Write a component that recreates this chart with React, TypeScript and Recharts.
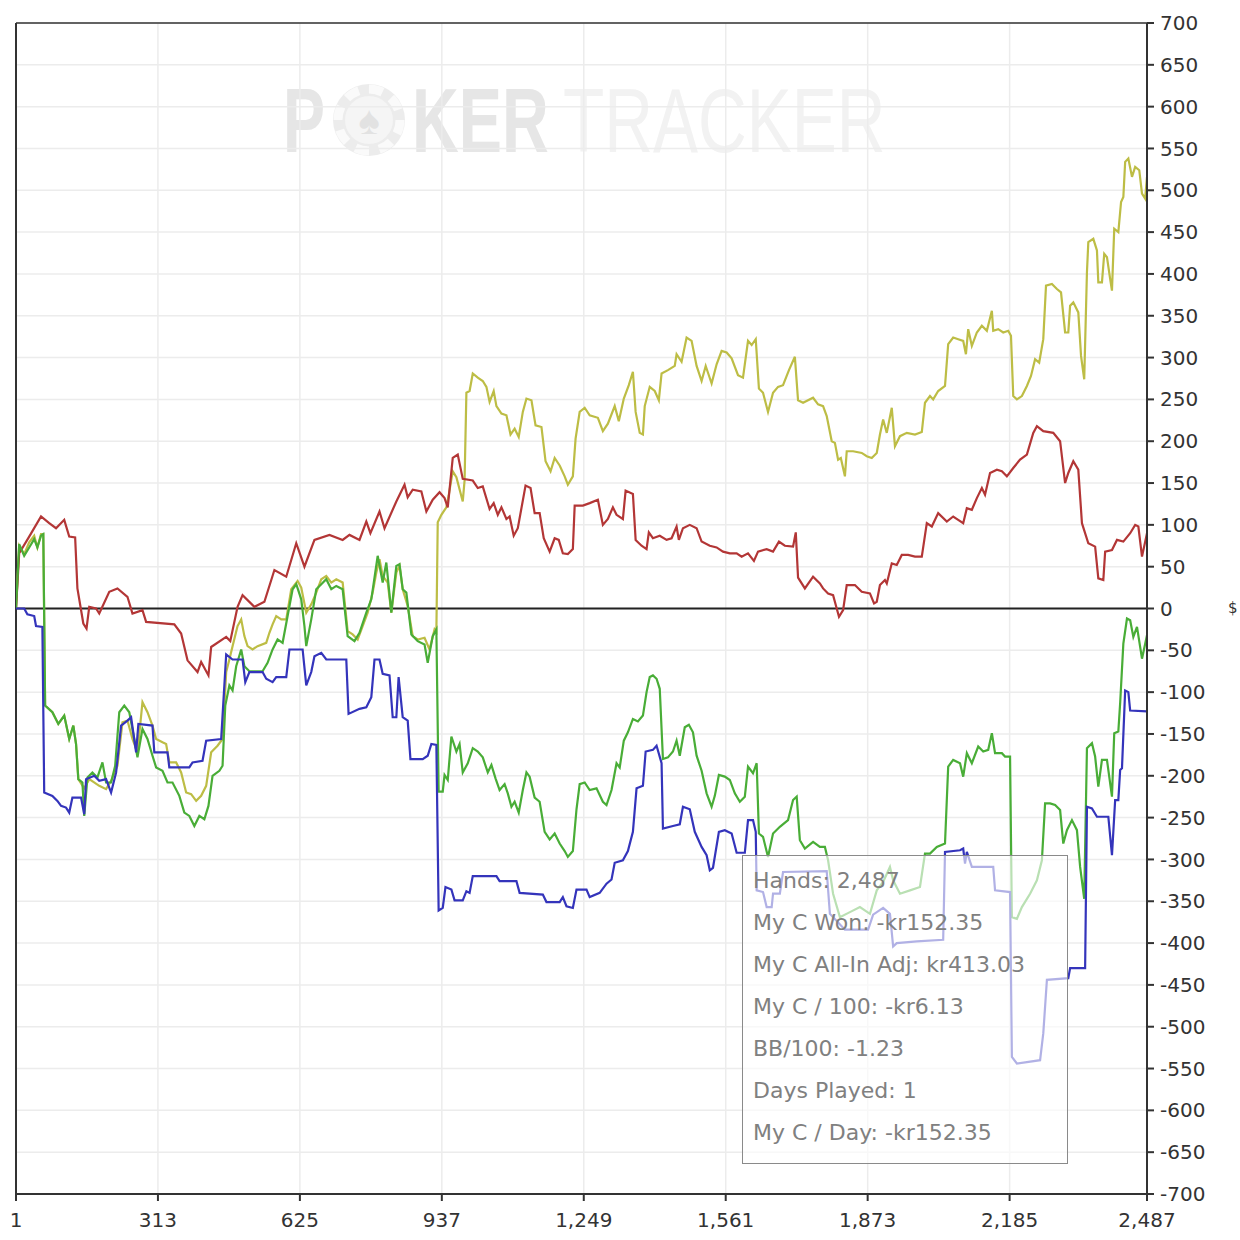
import React from 'react';
import { LineChart, Line, XAxis, YAxis, CartesianGrid, ReferenceLine } from 'recharts';

// hand number / running total
const xTicks = [1, 313, 625, 937, 1249, 1561, 1873, 2185, 2487];
const yTicks = Array.from({ length: 29 }, (_, i) => -700 + i * 50);

const wonHands = [1, 8, 30, 56, 74, 89, 107, 118, 131, 136, 149, 156, 162, 177, 184, 206, 224, 246, 257, 279, 287, 349, 364, 378, 400, 408, 424, 430, 463, 472, 488, 499, 525, 547, 569, 595, 617, 635, 657, 690, 719, 734, 756, 771, 780, 800, 811, 837, 855, 862, 873, 892, 903, 917, 932, 943, 950, 961, 972, 983, 1005, 1016, 1027, 1042, 1051, 1060, 1068, 1079, 1086, 1095, 1104, 1121, 1132, 1141, 1152, 1161, 1174, 1185, 1194, 1203, 1214, 1225, 1229, 1247, 1262, 1280, 1291, 1302, 1313, 1321, 1335, 1341, 1357, 1363, 1376, 1387, 1392, 1401, 1416, 1431, 1442, 1453, 1458, 1467, 1482, 1497, 1508, 1526, 1541, 1555, 1570, 1585, 1596, 1610, 1623, 1632, 1651, 1665, 1678, 1691, 1709, 1715, 1720, 1735, 1753, 1768, 1775, 1786, 1797, 1805, 1810, 1819, 1827, 1845, 1860, 1878, 1887, 1893, 1900, 1911, 1915, 1926, 1937, 1948, 1962, 1977, 1992, 2003, 2014, 2028, 2047, 2061, 2072, 2083, 2091, 2102, 2113, 2124, 2131, 2142, 2157, 2168, 2179, 2193, 2208, 2223, 2237, 2245, 2259, 2281, 2296, 2307, 2314, 2325, 2336, 2344, 2358, 2373, 2380, 2391, 2395, 2410, 2421, 2435, 2450, 2461, 2468, 2476, 2487];
const wonValues = [0, 66, 86, 110, 102, 96, 106, 86, 85, 24, -18, -24, 2, 0, -6, 20, 24, 14, -6, -2, -16, -19, -30, -62, -76, -64, -80, -46, -34, -39, 2, 16, 2, 8, 46, 38, 78, 50, 82, 88, 82, 88, 82, 104, 90, 116, 96, 128, 148, 133, 142, 140, 116, 130, 139, 132, 121, 180, 184, 155, 153, 144, 146, 119, 126, 112, 121, 107, 110, 87, 96, 147, 144, 114, 114, 84, 68, 84, 82, 66, 65, 71, 123, 123, 126, 130, 100, 107, 121, 112, 107, 141, 137, 82, 75, 71, 91, 84, 87, 82, 84, 98, 82, 96, 100, 96, 80, 75, 73, 68, 66, 66, 62, 66, 57, 68, 71, 68, 80, 75, 74, 91, 37, 24, 38, 30, 24, 18, 16, 0, -10, -2, 28, 28, 20, 18, 6, 8, 28, 34, 30, 54, 52, 64, 64, 62, 62, 102, 98, 114, 104, 110, 106, 102, 120, 118, 132, 144, 136, 162, 166, 164, 158, 168, 178, 184, 210, 218, 212, 210, 200, 150, 162, 176, 166, 102, 78, 74, 36, 34, 68, 70, 82, 80, 90, 100, 98, 62, 90];

const adjHands = [1, 8, 19, 30, 41, 48, 56, 61, 65, 81, 94, 107, 118, 127, 133, 138, 151, 162, 184, 199, 210, 224, 235, 246, 257, 268, 279, 290, 301, 309, 323, 331, 338, 353, 364, 375, 386, 397, 408, 419, 430, 444, 455, 463, 470, 477, 488, 496, 503, 510, 521, 532, 551, 558, 565, 573, 584, 595, 606, 620, 628, 639, 650, 661, 672, 683, 694, 705, 719, 730, 741, 752, 763, 774, 785, 793, 800, 807, 818, 826, 837, 844, 851, 862, 873, 884, 899, 910, 921, 925, 928, 936, 947, 952, 961, 969, 983, 987, 991, 998, 1005, 1016, 1027, 1035, 1042, 1051, 1057, 1068, 1079, 1088, 1097, 1106, 1115, 1123, 1134, 1143, 1156, 1165, 1176, 1185, 1196, 1207, 1214, 1225, 1231, 1240, 1251, 1262, 1280, 1291, 1302, 1317, 1326, 1337, 1348, 1357, 1363, 1372, 1379, 1383, 1394, 1405, 1414, 1420, 1434, 1449, 1453, 1464, 1475, 1486, 1497, 1508, 1517, 1530, 1541, 1552, 1563, 1574, 1588, 1599, 1610, 1618, 1627, 1634, 1643, 1654, 1665, 1676, 1687, 1700, 1713, 1720, 1731, 1753, 1764, 1775, 1783, 1794, 1801, 1808, 1814, 1823, 1827, 1841, 1860, 1871, 1882, 1893, 1900, 1907, 1915, 1926, 1933, 1944, 1959, 1977, 1992, 1999, 2010, 2017, 2028, 2043, 2050, 2061, 2072, 2083, 2089, 2094, 2102, 2113, 2124, 2135, 2146, 2149, 2160, 2171, 2182, 2188, 2193, 2201, 2212, 2223, 2232, 2241, 2250, 2259, 2265, 2278, 2289, 2298, 2307, 2314, 2318, 2325, 2336, 2342, 2349, 2355, 2358, 2369, 2377, 2380, 2388, 2393, 2399, 2406, 2410, 2415, 2424, 2430, 2435, 2439, 2446, 2454, 2461, 2470, 2476, 2483, 2487];
const adjValues = [0, 75, 65, 79, 87, 73, 89, 89, -116, -124, -138, -128, -156, -140, -162, -204, -215, -204, -212, -216, -206, -188, -136, -134, -156, -172, -112, -124, -140, -156, -160, -162, -184, -184, -196, -220, -222, -230, -224, -212, -172, -164, -156, -76, -61, -45, -21, -13, -33, -45, -49, -45, -41, -29, -19, -9, -13, -13, 23, 33, 25, -5, 5, 19, 35, 39, 31, 35, 31, -27, -31, -37, -21, -5, 19, 43, 59, 39, 31, -5, 43, 51, 23, 3, -33, -37, -35, -49, -25, -28, 103, 112, 121, 135, 164, 157, 128, 153, 258, 260, 281, 276, 272, 265, 247, 260, 242, 233, 231, 208, 215, 205, 235, 251, 249, 219, 217, 176, 164, 180, 171, 158, 148, 158, 203, 235, 240, 231, 228, 212, 221, 242, 224, 251, 267, 283, 235, 210, 208, 242, 265, 260, 249, 281, 285, 290, 304, 295, 324, 320, 290, 272, 290, 269, 292, 308, 306, 299, 279, 276, 320, 315, 322, 263, 258, 235, 258, 265, 267, 285, 301, 249, 246, 252, 244, 242, 230, 200, 198, 178, 180, 158, 188, 188, 186, 182, 180, 186, 208, 226, 210, 240, 194, 206, 210, 208, 211, 246, 254, 250, 260, 266, 316, 324, 322, 320, 304, 334, 314, 330, 338, 332, 356, 332, 334, 330, 332, 326, 254, 250, 254, 266, 278, 298, 294, 322, 386, 388, 382, 378, 330, 330, 362, 366, 354, 302, 274, 402, 438, 442, 428, 390, 390, 424, 420, 394, 380, 454, 450, 486, 492, 534, 538, 516, 528, 524, 496, 490, 516];

const per100Hands = [1, 8, 19, 30, 41, 48, 56, 61, 65, 81, 94, 107, 118, 127, 133, 138, 147, 151, 158, 169, 180, 191, 199, 210, 219, 228, 239, 250, 261, 268, 279, 290, 301, 309, 323, 334, 345, 360, 371, 382, 393, 404, 415, 424, 433, 448, 455, 461, 470, 477, 485, 496, 503, 514, 543, 554, 565, 576, 587, 598, 609, 617, 628, 635, 639, 650, 661, 672, 683, 694, 705, 719, 730, 745, 756, 771, 782, 796, 807, 815, 826, 837, 844, 851, 859, 870, 884, 899, 906, 917, 925, 930, 939, 943, 950, 958, 969, 976, 983, 994, 1005, 1016, 1027, 1038, 1046, 1055, 1064, 1075, 1082, 1090, 1097, 1106, 1115, 1123, 1130, 1141, 1152, 1163, 1174, 1185, 1196, 1207, 1214, 1225, 1233, 1240, 1251, 1262, 1277, 1291, 1299, 1310, 1321, 1328, 1337, 1346, 1357, 1368, 1379, 1387, 1394, 1401, 1409, 1416, 1423, 1434, 1445, 1453, 1460, 1471, 1480, 1489, 1497, 1508, 1519, 1530, 1537, 1546, 1559, 1570, 1581, 1592, 1603, 1610, 1621, 1629, 1634, 1643, 1654, 1665, 1680, 1698, 1709, 1717, 1724, 1735, 1753, 1768, 1779, 1786, 1797, 1812, 1834, 1856, 1878, 1893, 1907, 1922, 1929, 1944, 1966, 1988, 1999, 2010, 2025, 2043, 2050, 2061, 2076, 2083, 2091, 2102, 2116, 2127, 2138, 2146, 2153, 2168, 2175, 2186, 2190, 2201, 2212, 2230, 2245, 2256, 2263, 2274, 2285, 2296, 2303, 2311, 2322, 2333, 2340, 2349, 2355, 2366, 2373, 2380, 2388, 2399, 2410, 2415, 2424, 2428, 2435, 2443, 2450, 2457, 2465, 2476, 2487];
const per100Values = [0, 77, 63, 73, 83, 73, 87, 89, -116, -124, -138, -128, -156, -140, -162, -204, -208, -248, -202, -196, -202, -184, -208, -208, -188, -124, -116, -124, -156, -178, -144, -156, -176, -190, -194, -208, -208, -224, -244, -248, -260, -248, -252, -236, -200, -194, -188, -116, -92, -98, -69, -49, -69, -75, -75, -65, -49, -37, -41, -9, 23, 29, 11, -21, -45, -13, 23, 29, 35, 23, 27, 23, -33, -39, -29, -5, 11, 63, 31, 55, -5, 51, 53, 23, 19, -31, -39, -43, -65, -33, -25, -219, -219, -199, -205, -153, -171, -162, -196, -185, -167, -171, -178, -196, -187, -203, -217, -210, -221, -237, -231, -244, -217, -196, -201, -226, -231, -267, -276, -269, -281, -290, -297, -290, -240, -210, -208, -217, -215, -231, -235, -217, -185, -190, -158, -148, -132, -135, -128, -100, -82, -80, -84, -96, -180, -178, -171, -158, -176, -142, -139, -148, -176, -194, -221, -237, -224, -199, -201, -205, -221, -231, -225, -189, -197, -185, -269, -273, -297, -269, -261, -253, -229, -225, -277, -287, -279, -285, -285, -301, -341, -369, -363, -357, -365, -337, -327, -309, -325, -341, -337, -333, -293, -293, -285, -281, -189, -181, -185, -201, -173, -185, -165, -171, -169, -149, -173, -173, -177, -177, -369, -371, -357, -341, -325, -301, -233, -233, -235, -241, -281, -265, -253, -265, -309, -347, -167, -161, -177, -213, -181, -181, -225, -149, -147, -113, -42, -12, -14, -34, -22, -60, -32];

const dayHands = [1, 19, 26, 41, 45, 59, 63, 81, 92, 100, 111, 118, 125, 144, 151, 155, 173, 184, 199, 210, 221, 232, 246, 254, 265, 270, 301, 305, 334, 338, 382, 389, 411, 419, 452, 463, 477, 499, 505, 514, 543, 551, 565, 573, 595, 602, 631, 639, 650, 657, 672, 683, 727, 732, 756, 771, 782, 789, 800, 807, 822, 829, 837, 842, 851, 862, 868, 895, 906, 914, 925, 930, 939, 945, 958, 965, 983, 991, 998, 1005, 1057, 1064, 1101, 1108, 1159, 1167, 1196, 1203, 1211, 1225, 1233, 1255, 1262, 1284, 1299, 1310, 1317, 1335, 1346, 1357, 1365, 1379, 1385, 1401, 1409, 1420, 1423, 1445, 1460, 1467, 1482, 1493, 1508, 1519, 1526, 1533, 1546, 1559, 1574, 1585, 1603, 1610, 1621, 1627, 1629, 1643, 1651, 1662, 1665, 1680, 1687, 1783, 1790, 1823, 1874, 1885, 1907, 1922, 1929, 1937, 1981, 2039, 2043, 2076, 2083, 2087, 2091, 2102, 2149, 2153, 2186, 2190, 2201, 2252, 2259, 2267, 2314, 2318, 2351, 2355, 2366, 2377, 2402, 2410, 2417, 2424, 2428, 2432, 2439, 2446, 2450, 2487];
const dayValues = [0, 0, -7, -9, -21, -22, -220, -224, -230, -236, -238, -244, -226, -226, -246, -204, -200, -206, -204, -220, -196, -140, -134, -130, -172, -138, -140, -172, -172, -190, -190, -184, -182, -158, -156, -55, -61, -61, -88, -76, -76, -84, -88, -82, -82, -49, -49, -92, -76, -57, -53, -61, -61, -126, -120, -118, -106, -61, -61, -78, -80, -130, -130, -82, -130, -134, -180, -180, -176, -162, -163, -361, -358, -333, -336, -349, -349, -338, -340, -320, -320, -326, -326, -340, -342, -351, -351, -345, -356, -358, -336, -336, -345, -340, -329, -324, -304, -301, -290, -267, -215, -212, -171, -169, -164, -185, -263, -260, -258, -237, -240, -267, -285, -295, -313, -310, -267, -265, -269, -292, -292, -253, -253, -267, -337, -339, -357, -357, -341, -341, -315, -314, -365, -384, -384, -366, -358, -365, -404, -400, -398, -396, -291, -289, -287, -305, -291, -309, -309, -337, -339, -536, -544, -540, -508, -444, -442, -430, -430, -237, -239, -249, -249, -295, -229, -229, -193, -191, -98, -100, -122, -123];

const seriesList = [
  { name: 'My C All-In Adj', hands: adjHands, values: adjValues, color: '#bdbd45' },
  { name: 'My C Won', hands: wonHands, values: wonValues, color: '#b33636' },
  { name: 'My C / 100', hands: per100Hands, values: per100Values, color: '#49ad37' },
  { name: 'My C / Day', hands: dayHands, values: dayValues, color: '#3434bb' },
];

const tooltipLines = [
  'Hands: 2,487',
  'My C Won: -kr152.35',
  'My C All-In Adj: kr413.03',
  'My C / 100: -kr6.13',
  'BB/100: -1.23',
  'Days Played: 1',
  'My C / Day: -kr152.35',
];

const axisFont = { fontFamily: 'DejaVu Sans, Verdana, sans-serif', fontSize: 20, fill: '#333' };

function Watermark() {
  // letters squeezed with scale() so their boxes match what is drawn
  return (
    <svg width={1240} height={200} style={{ position: 'absolute', left: 0, top: 0 }}>
      <g fontFamily="Liberation Sans, Arial, sans-serif">
        <g transform="translate(283,152) scale(0.7,1)">
          <text fontSize={90} fontWeight="bold" fill="#e6e6e6">P</text>
        </g>
        <circle cx={369} cy={120} r={36} fill="#ececec" />
        <circle cx={369} cy={120} r={31} fill="none" stroke="#fafafa" strokeWidth={9} strokeDasharray="14 10.3" />
        <circle cx={369} cy={120} r={24} fill="#f5f5f5" />
        <text x={369} y={134} fontSize={40} fill="#e2e2e2" textAnchor="middle">♠</text>
        <g transform="translate(412,152) scale(0.72,1)">
          <text fontSize={90} fontWeight="bold" fill="#e6e6e6">KER</text>
        </g>
        <g transform="translate(563,152) scale(0.75,1)">
          <text fontSize={90} fill="#f2f2f2">TRACKER</text>
        </g>
      </g>
    </svg>
  );
}

export default function App() {
  return (
    <div style={{ position: 'absolute', left: 0, top: 0, width: 1240, height: 1240, background: '#fff', overflow: 'hidden' }}>
      <Watermark />
      <div style={{ position: 'absolute', left: 0, top: 0 }}>
        <LineChart width={1240} height={1240} margin={{ top: 23, right: 13, bottom: 6, left: 16 }}>
          <CartesianGrid stroke="#ececec" strokeWidth={1.5} />
          <XAxis
            type="number"
            dataKey="hand"
            domain={[1, 2487]}
            ticks={xTicks}
            allowDataOverflow
            tickFormatter={(v: number) => v.toLocaleString('en-US')}
            height={40}
            tickSize={7}
            tickMargin={12}
            axisLine={{ stroke: '#333', strokeWidth: 2 }}
            tickLine={{ stroke: '#333', strokeWidth: 2 }}
            tick={axisFont}
            interval={0}
          />
          <YAxis
            orientation="right"
            type="number"
            domain={[-700, 700]}
            ticks={yTicks}
            width={80}
            tickSize={7}
            tickMargin={6}
            axisLine={{ stroke: '#333', strokeWidth: 2 }}
            tickLine={{ stroke: '#333', strokeWidth: 2 }}
            tick={axisFont}
            interval={0}
          />
          <ReferenceLine x={1} stroke="#333" strokeWidth={2} />
          <ReferenceLine y={700} stroke="#333" strokeWidth={1.5} />
          <ReferenceLine y={0} stroke="#222" strokeWidth={2} />
          {seriesList.map((s) => (
            <Line
              key={s.name}
              name={s.name}
              data={s.hands.map((h, i) => ({ hand: h, value: s.values[i] }))}
              dataKey="value"
              type="linear"
              stroke={s.color}
              strokeWidth={2.2}
              dot={false}
              activeDot={false}
              isAnimationActive={false}
            />
          ))}
        </LineChart>
      </div>
      <div style={{ position: 'absolute', left: 1228, top: 599, fontFamily: 'DejaVu Sans, sans-serif', fontSize: 15, color: '#333' }}>$</div>
      <div
        style={{
          position: 'absolute',
          left: 742,
          top: 855,
          width: 326,
          height: 309,
          boxSizing: 'border-box',
          border: '1px solid #8a8a8a',
          background: 'rgba(255,255,255,0.62)',
          paddingTop: 4,
          paddingLeft: 10,
          fontFamily: 'DejaVu Sans, Verdana, sans-serif',
          fontSize: 22,
          lineHeight: '42px',
          color: '#808080',
          whiteSpace: 'nowrap',
        }}
      >
        {tooltipLines.map((t) => (
          <div key={t}>{t}</div>
        ))}
      </div>
    </div>
  );
}
